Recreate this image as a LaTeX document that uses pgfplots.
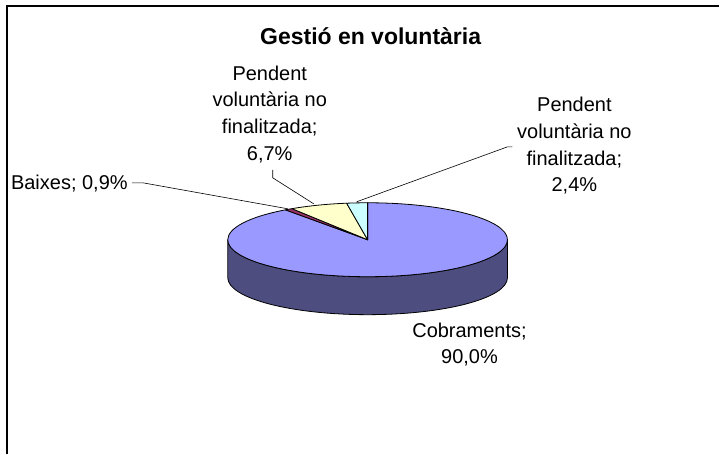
\documentclass[border=0pt]{standalone}
\usepackage{pgfplots}
\pgfplotsset{compat=1.18}
\usepackage{pgfplotstable}
\usepackage{fontspec}
\setmainfont{Liberation Sans}

\definecolor{cobtop}{HTML}{9999FF}
\definecolor{cobside}{HTML}{4D4D80}
\definecolor{baixes}{HTML}{993366}
\definecolor{penda}{HTML}{FFFFCC}
\definecolor{pendb}{HTML}{CCFFFF}

% slice values (%), clockwise from 12 o'clock
\pgfplotstableread{
value
90.0
0.9
6.7
2.4
}\piedata
\pgfplotstablegetelem{0}{value}\of\piedata \edef\vA{\pgfplotsretval}
\pgfplotstablegetelem{1}{value}\of\piedata \edef\vB{\pgfplotsretval}
\pgfplotstablegetelem{2}{value}\of\piedata \edef\vC{\pgfplotsretval}
\pgfplotstablegetelem{3}{value}\of\piedata \edef\vD{\pgfplotsretval}
\pgfmathsetmacro\aA{90}
\pgfmathsetmacro\aB{\aA-3.6*\vA}
\pgfmathsetmacro\aC{\aB-3.6*\vB}
\pgfmathsetmacro\aD{\aC-3.6*\vC}
\pgfmathsetmacro\aE{\aD-3.6*\vD}

\begin{document}
\begin{tikzpicture}
\begin{axis}[
  width=720pt, height=454pt, scale only axis,
  xmin=0, xmax=720, ymin=0, ymax=454,
  hide axis, clip=false]
  \path (axis cs:0,0) rectangle (axis cs:720,454);
  % frame
  \draw[line width=1.5pt] (axis cs:7,0) -- (axis cs:7,448) -- (axis cs:720,448);
  % title
  \node[inner sep=0pt, font=\bfseries\fontsize{23}{27}\selectfont] at (axis cs:371,418) {Gestió en voluntària};
  % side of pie (front half, all Cobraments)
  \filldraw[fill=cobside, draw=black, line width=0.8pt]
    (axis cs:228,214) arc[start angle=180, end angle=360, x radius=140pt, y radius=37pt]
    -- ++(0pt,-38pt)
    arc[start angle=360, end angle=180, x radius=140pt, y radius=37pt] -- cycle;
  % top faces
  \filldraw[fill=cobtop, draw=black, line width=0.8pt, line join=round]
    (axis cs:368,214) -- ++(\aA:140pt and 37pt)
    arc[start angle=\aA, end angle=\aB, x radius=140pt, y radius=37pt] -- cycle;
  \filldraw[fill=baixes, draw=black, line width=0.8pt, line join=round]
    (axis cs:368,214) -- ++(\aB:140pt and 37pt)
    arc[start angle=\aB, end angle=\aC, x radius=140pt, y radius=37pt] -- cycle;
  \filldraw[fill=penda, draw=black, line width=0.8pt, line join=round]
    (axis cs:368,214) -- ++(\aC:140pt and 37pt)
    arc[start angle=\aC, end angle=\aD, x radius=140pt, y radius=37pt] -- cycle;
  \filldraw[fill=pendb, draw=black, line width=0.8pt, line join=round]
    (axis cs:368,214) -- ++(\aD:140pt and 37pt)
    arc[start angle=\aD, end angle=\aE, x radius=140pt, y radius=37pt] -- cycle;
  % leader lines
  \draw[line width=0.6pt] (axis cs:513,307) -- (axis cs:508,307) -- (axis cs:357,252);
  \draw[line width=0.6pt] (axis cs:273,284) -- (axis cs:273,276) -- (axis cs:314,250);
  \draw[line width=0.6pt] (axis cs:132,271) -- (axis cs:143,271) -- (axis cs:288,245);
  % labels
  \node[inner sep=0pt, anchor=north, align=center, font=\fontsize{20}{26.7}\selectfont]
    at (axis cs:575,356.6) {Pendent\\voluntària no\\finalitzada;\\2,4\%};
  \node[inner sep=0pt, anchor=north, align=center, font=\fontsize{20}{26.7}\selectfont]
    at (axis cs:270,388.6) {Pendent\\voluntària no\\finalitzada;\\6,7\%};
  \node[inner sep=0pt, anchor=north, align=center, font=\fontsize{20}{26.2}\selectfont]
    at (axis cs:470,130.6) {Cobraments;\\90,0\%};
  \node[inner sep=0pt, anchor=base east, font=\fontsize{20}{24}\selectfont]
    at (axis cs:128,264) {Baixes; 0,9\%};
\end{axis}
\end{tikzpicture}
\end{document}
